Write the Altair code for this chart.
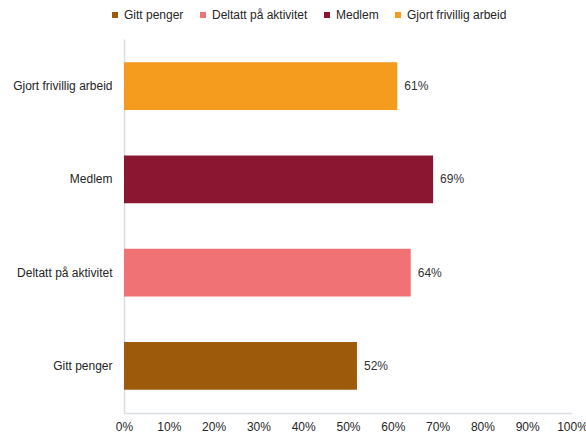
import altair as alt
import pandas as pd

categories = ["Gitt penger", "Deltatt på aktivitet", "Medlem", "Gjort frivillig arbeid"]
values = [0.52, 0.64, 0.69, 0.61]
colors = ["#9C5A0A", "#F07274", "#8A1632", "#F59B1E"]

df = pd.DataFrame({"kategori": categories, "andel": values})
y_order = list(reversed(categories))

base = alt.Chart(df).encode(
    y=alt.Y("kategori:N", sort=y_order,
            scale=alt.Scale(domain=y_order, paddingInner=0.49, paddingOuter=0.25),
            axis=alt.Axis(title=None, ticks=False, domainColor="#d9dde3", domainWidth=1.5,
                          labelPadding=12, labelFontSize=12, labelColor="#262626",
                          labelFont="Liberation Sans")),
)

bars = base.mark_bar().encode(
    x=alt.X("andel:Q", scale=alt.Scale(domain=[0, 1]),
            axis=alt.Axis(title=None, format=".0%", values=[i / 10 for i in range(11)],
                          ticks=False, grid=False, domainColor="#d9dde3", domainWidth=1.5,
                          labelPadding=8, labelFontSize=12, labelColor="#262626",
                          labelFont="Liberation Sans", labelOverlap=False, labelFlush=False)),
    color=alt.Color("kategori:N",
                    scale=alt.Scale(domain=categories, range=colors),
                    legend=alt.Legend(title=None, orient="none", direction="horizontal",
                                      legendX=-15, legendY=-30, symbolType="square",
                                      symbolSize=36, symbolOpacity=1, labelFontSize=12,
                                      labelFont="Liberation Sans", labelColor="#262626",
                                      labelOffset=3, columnPadding=13, symbolStrokeWidth=0)),
)

text = base.mark_text(align="left", dx=7, fontSize=12, font="Liberation Sans",
                      color="#333333").encode(
    x="andel:Q",
    text=alt.Text("andel:Q", format=".0%"),
)

chart = (bars + text).properties(
    width=448, height=374,
    autosize=alt.AutoSizeParams(type="none"),
    padding={"left": 116, "top": 31, "right": 14, "bottom": 26},
).configure_view(stroke=None)

chart.save("out.html", embed_options={"renderer": "svg", "actions": False})

with open("out.html", encoding="utf-8") as f:
    html = f.read()
css = ("<style>html,body{overflow:hidden !important;} "
       "body{margin:8px 0 8px 8px !important;}</style>")
html = html.replace("</head>", css + "</head>", 1)
with open("out.html", "w", encoding="utf-8") as f:
    f.write(html)
